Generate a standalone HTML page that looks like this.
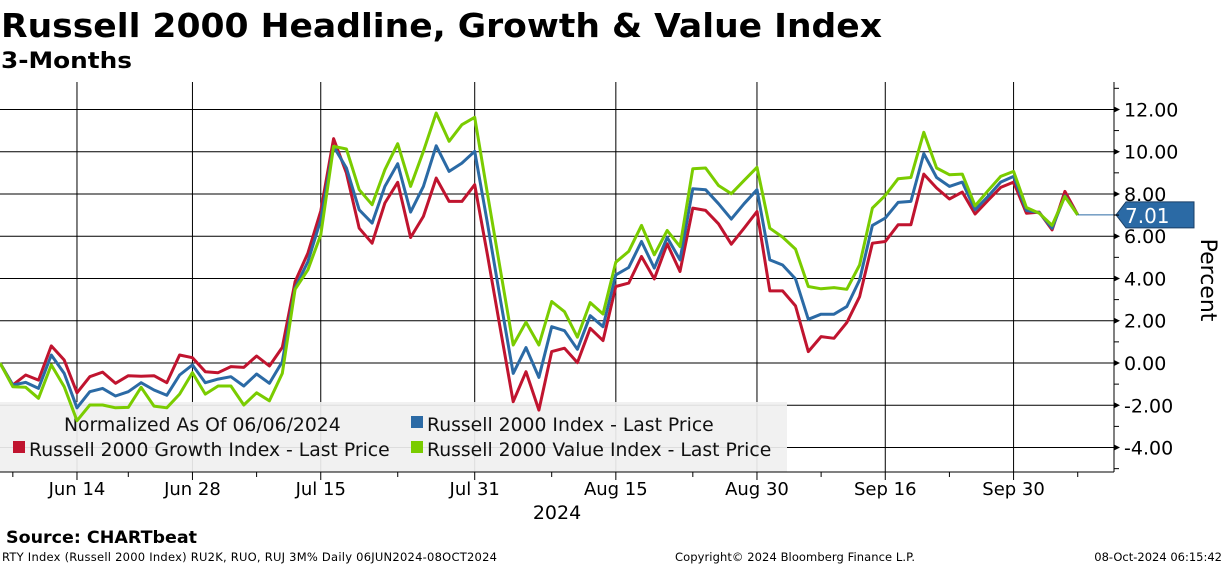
<!DOCTYPE html>
<html><head><meta charset="utf-8"><style>
body{margin:0;background:#fff;width:1224px;height:566px;overflow:hidden;font-family:"DejaVu Sans","Liberation Sans",sans-serif}
svg text{font-family:"DejaVu Sans","Liberation Sans",sans-serif}
</style></head><body>
<svg id="c" width="1224" height="566">
<text x="1" y="37" font-size="33" font-weight="bold" textLength="881" lengthAdjust="spacingAndGlyphs">Russell 2000 Headline, Growth &amp; Value Index</text>
<text x="1" y="68" font-size="22" font-weight="bold" textLength="131" lengthAdjust="spacingAndGlyphs">3-Months</text>
<g id="grid"></g>
<g id="legend"></g>
<g id="series"></g>
<g id="axes"></g>
<text x="6" y="543" font-size="16.5" font-weight="bold" textLength="191" lengthAdjust="spacingAndGlyphs">Source: CHARTbeat</text>
<text x="2" y="561" font-size="11.5" textLength="495">RTY Index (Russell 2000 Index) RU2K, RUO, RUJ 3M%  Daily 06JUN2024-08OCT2024</text>
<text x="675" y="561" font-size="11.5" textLength="240">Copyright© 2024 Bloomberg Finance L.P.</text>
<text x="1222" y="561" font-size="11.5" text-anchor="end">08-Oct-2024 06:15:42</text>
</svg>
<script>
const growth=[0,-1.04,-0.57,-0.81,0.81,0.14,-1.41,-0.65,-0.43,-0.96,-0.60,-0.63,-0.60,-0.93,0.38,0.25,-0.41,-0.46,-0.17,-0.21,0.33,-0.14,0.74,3.85,5.20,7.20,10.62,8.99,6.38,5.67,7.57,8.55,5.94,6.94,8.75,7.65,7.65,8.44,5.1,1.6,-1.83,-0.41,-2.23,0.54,0.70,0.02,1.64,1.06,3.62,3.78,5.04,3.98,5.64,4.33,7.33,7.22,6.59,5.62,6.38,7.17,3.41,3.41,2.70,0.54,1.25,1.17,1.91,3.14,5.67,5.75,6.54,6.54,8.94,8.28,7.76,8.09,7.05,7.69,8.31,8.56,7.09,7.14,6.30,8.12,7.01];
const headline=[0,-1.04,-0.92,-1.20,0.38,-0.49,-2.12,-1.36,-1.20,-1.56,-1.36,-0.93,-1.28,-1.53,-0.57,-0.09,-0.93,-0.76,-0.65,-1.09,-0.52,-0.96,0.06,3.54,4.80,6.78,10.25,9.23,7.25,6.62,8.36,9.43,7.14,8.36,10.28,9.07,9.46,10.02,6.6,3.0,-0.49,0.73,-0.68,1.72,1.53,0.65,2.24,1.72,4.17,4.52,5.75,4.49,5.94,4.88,8.25,8.20,7.54,6.81,7.54,8.20,4.88,4.64,3.98,2.07,2.31,2.31,2.67,3.93,6.51,6.86,7.60,7.65,9.91,8.78,8.36,8.56,7.25,7.88,8.56,8.83,7.22,7.12,6.38,7.91,7.01];
const value=[0,-1.12,-1.15,-1.67,-0.09,-1.12,-2.73,-1.99,-1.99,-2.12,-2.10,-1.15,-2.04,-2.12,-1.47,-0.46,-1.47,-1.09,-1.09,-1.99,-1.41,-1.79,-0.49,3.49,4.41,6.07,10.25,10.13,8.20,7.49,9.15,10.38,8.36,10.02,11.83,10.49,11.28,11.63,8.0,4.4,0.85,1.93,0.85,2.91,2.43,1.22,2.86,2.32,4.77,5.28,6.51,5.12,6.27,5.51,9.19,9.23,8.40,8.01,8.64,9.26,6.38,5.96,5.39,3.62,3.51,3.57,3.49,4.64,7.33,7.93,8.72,8.78,10.92,9.23,8.91,8.94,7.44,8.15,8.83,9.07,7.36,7.09,6.51,7.88,7.01];
const yTicks=[12,10,8,6,4,2,0,-2,-4];
const yTickLabels=["12.00","10.00","8.00","6.00","4.00","2.00","0.00","-2.00","-4.00"];
const xLabels=["Jun 14","Jun 28","Jul 15","Jul 31","Aug 15","Aug 30","Sep 16","Sep 30"];
const xLabelIdx=[6,15,25,37,48,59,69,79];
const minorIdx=[1,10,20,31,43,54,64,74,84];
const lastValue=7.01;

const NS="http://www.w3.org/2000/svg";
const X=i=>i*12.83;
const Y=v=>363-v*21.13;
const PL=0,PR=1114,PT=82,PB=472;
function mk(tag,attrs,parent){const e=document.createElementNS(NS,tag);for(const k in attrs)e.setAttribute(k,attrs[k]);parent.appendChild(e);return e;}
const grid=document.getElementById('grid'),axes=document.getElementById('axes'),ser=document.getElementById('series'),leg=document.getElementById('legend');
yTicks.forEach((t,k)=>{
  const l=mk('line',{x1:PL,x2:PR,y1:Y(t),y2:Y(t),stroke:'#000','stroke-width':1},grid);
  
  
  const tk=mk('path',{d:`M${PR} ${Y(t)-3}L${PR+6} ${Y(t)}L${PR} ${Y(t)+3}Z`,fill:'#000'},axes);
  
  
  const tx=mk('text',{x:PR+10,y:Y(t)+7,'font-size':19},axes);
  tx.textContent=yTickLabels[k];
  
  
});
for(let v=-5;v<=13;v++){if(v%2!==0){const m=mk('line',{x1:PR,x2:PR+5,y1:Y(v),y2:Y(v),stroke:'#000'},axes);
  
  }}
xLabelIdx.forEach((i,k)=>{
  const l=mk('line',{x1:X(i),x2:X(i),y1:PT,y2:PB+8,stroke:'#000','stroke-width':1},grid);
  
  
  const tx=mk('text',{x:X(i),y:495,'font-size':18,'text-anchor':'middle'},axes);
  tx.textContent=xLabels[k];
  
  
});
minorIdx.forEach(i=>{const m=mk('line',{x1:X(i),x2:X(i),y1:PB,y2:PB+5,stroke:'#000'},axes);
  
  });
let a=mk('line',{x1:PR,x2:PR,y1:PT,y2:PB,stroke:'#000'},axes);


a=mk('line',{x1:PL,x2:PR,y1:PB,y2:PB,stroke:'#000'},axes);


let t=mk('text',{x:557,y:519,'font-size':19,'text-anchor':'middle'},axes);t.textContent='2024';


t=mk('text',{x:0,y:0,'font-size':22,transform:'translate(1201,280) rotate(90)','text-anchor':'middle'},axes);t.textContent='Percent';


// legend
let r=mk('rect',{x:0,y:402,width:787,height:70,fill:'#f0f0f0','fill-opacity':0.92},leg);


[[null,64,431,'Normalized As Of 06/06/2024'],['#2b6aa5',411,431,'Russell 2000 Index - Last Price'],['#c0142f',13,456,'Russell 2000 Growth Index - Last Price'],['#7acc00',411,456,'Russell 2000 Value Index - Last Price']].forEach(d=>{
  if(d[0]){const s=mk('rect',{x:d[1],y:d[2]-15,width:12,height:12,fill:d[0]},leg);
    
    }
  const tx=mk('text',{x:d[0]?d[1]+16:d[1],y:d[2],'font-size':18.8,fill:'#111'},leg);
  tx.textContent=d[3];
  
  
});
function line(arr,color,name){
  const d=arr.map((v,i)=>(i?'L':'M')+X(i).toFixed(1)+' '+Y(v).toFixed(1)).join('');
  const p=mk('path',{d:d,fill:'none',stroke:color,'stroke-width':3,'stroke-linejoin':'round'},ser);
  
  
}
line(growth,'#c0142f','growth-line');
line(headline,'#2b6aa5','headline-line');
line(value,'#7acc00','value-line');
const last=X(growth.length-1),ly=Y(lastValue);
let ll=mk('line',{x1:last,x2:PR+4,y1:ly,y2:ly,stroke:'#2b6aa5','stroke-width':1},ser);


let tag=mk('path',{d:`M${PR+2} ${ly}L${PR+12} ${ly-13}L1194 ${ly-13}L1194 ${ly+13}L${PR+12} ${ly+13}Z`,fill:'#2b6aa5',stroke:'#1a3f66'},ser);


let tv=mk('text',{x:PR+11,y:ly+8,'font-size':20,fill:'#fff'},ser);tv.textContent=lastValue.toFixed(2);


</script>
</body></html>
